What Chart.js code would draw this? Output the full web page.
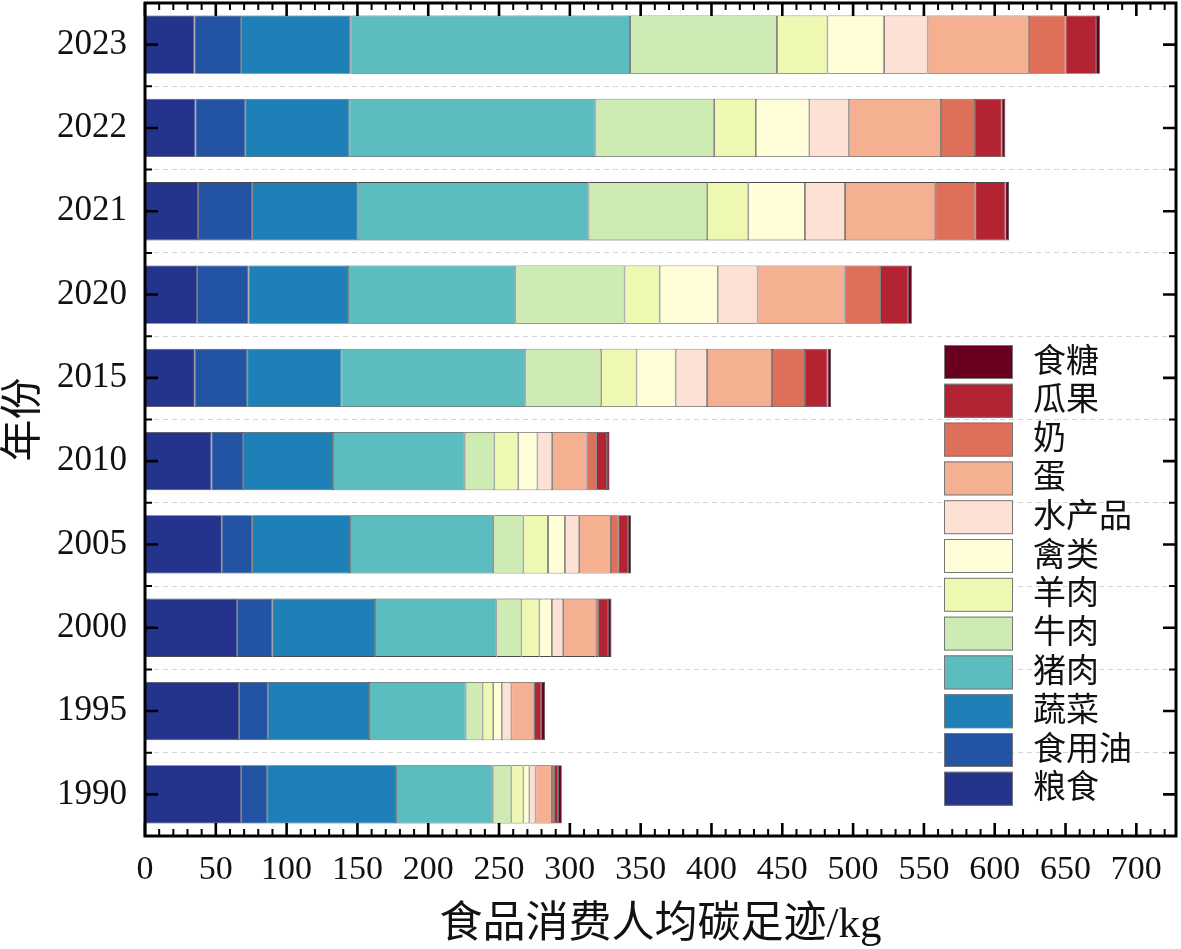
<!DOCTYPE html>
<html>
<head>
<meta charset="utf-8">
<script src="https://cdn.jsdelivr.net/npm/chart.js@4.4.1/dist/chart.umd.min.js"></script>
<style>
  body { margin: 0; background: #fff; }
</style>
</head>
<body>
<canvas id="myChart" width="1181" height="949"></canvas>
<script>
// years, bottom to top
const years = ['1990', '1995', '2000', '2005', '2010', '2015', '2020', '2021', '2022', '2023'];

// per-capita carbon footprint by food, kg (same order as years)
const grain   = [67.9, 66.5, 65.1, 54.2, 46.9, 35.1, 36.8, 37.5, 35.6, 34.9];
const oil     = [18.4, 20.2, 24.8, 21.5, 22.4, 37.1, 36.3, 38.2, 35.2, 33.0];
const veg     = [91.0, 71.5, 72.6, 69.1, 63.4, 66.5, 70.3, 74.5, 73.5, 77.2];
const pork    = [68.2, 68.2, 85.6, 101.1, 93.0, 129.9, 118.1, 163.0, 173.8, 197.4];
const beef    = [13.2, 12.0, 17.7, 21.3, 21.0, 53.6, 77.1, 83.8, 83.8, 103.7];
const mutton  = [8.5, 7.5, 12.7, 17.4, 16.9, 24.9, 24.8, 29.0, 29.4, 35.7];
const poultry = [4.2, 6.0, 8.8, 11.9, 13.5, 27.6, 41.0, 40.0, 37.8, 40.0];
const aquatic = [4.3, 6.8, 8.0, 10.1, 10.4, 22.2, 28.1, 28.3, 27.8, 30.7];
const egg     = [11.6, 15.6, 22.8, 22.4, 24.3, 45.8, 61.4, 63.7, 65.1, 71.7];
const milk    = [1.6, 0.5, 1.9, 5.2, 6.8, 23.3, 25.2, 28.3, 24.1, 25.7];
const fruit   = [2.8, 4.9, 6.9, 6.8, 7.6, 15.9, 19.6, 21.2, 18.8, 21.5];
const sugar   = [2.6, 2.8, 2.5, 2.2, 1.8, 2.5, 2.8, 2.6, 2.6, 2.8];

const foodNames = ['粮食', '食用油', '蔬菜', '猪肉', '牛肉', '羊肉', '禽类', '水产品', '蛋', '奶', '瓜果', '食糖'];
const foodData = [grain, oil, veg, pork, beef, mutton, poultry, aquatic, egg, milk, fruit, sugar];
const foodColors = ['#24338c', '#2353a3', '#1f80b8', '#5bbdc0', '#cfebb4', '#eef8b3',
                    '#fffed8', '#fde1d5', '#f5b092', '#de705a', '#b42332', '#6a0020'];

const xTicks = [0, 50, 100, 150, 200, 250, 300, 350, 400, 450, 500, 550, 600, 650, 700];
const xMax = 728;

const serif = '"Liberation Serif", "Noto Sans CJK SC", serif';

let datasets = [];
for (let i = 0; i < foodNames.length; i++) {
  datasets.push({
    label: foodNames[i],
    data: foodData[i],
    backgroundColor: foodColors[i],
    borderColor: '#4a4a4a',
    borderWidth: 0.8,
    borderSkipped: false,
    barPercentage: 0.7,
    categoryPercentage: 1.0
  });
}

// frame, inward ticks and legend
const framePlugin = {
  id: 'frame',
  afterDraw(chart) {
    const ctx = chart.ctx;
    const a = chart.chartArea;
    const xs = chart.scales.x;
    const ys = chart.scales.y;
    ctx.save();
    ctx.strokeStyle = '#000';
    ctx.lineCap = 'butt';

    // x ticks top and bottom
    for (let v = 0; v <= xMax; v += 10) {
      const px = xs.getPixelForValue(v);
      const major = v % 50 === 0;
      const len = major ? 13 : 7;
      ctx.lineWidth = major ? 2.6 : 2;
      ctx.beginPath();
      ctx.moveTo(px, a.bottom); ctx.lineTo(px, a.bottom - len);
      ctx.moveTo(px, a.top); ctx.lineTo(px, a.top + len);
      ctx.stroke();
    }

    // y ticks left and right
    const n = years.length;
    for (let i = 0; i < n; i++) {
      const py = ys.getPixelForValue(i);
      ctx.lineWidth = 2.6;
      ctx.beginPath();
      ctx.moveTo(a.left, py); ctx.lineTo(a.left + 13, py);
      ctx.moveTo(a.right, py); ctx.lineTo(a.right - 13, py);
      ctx.stroke();
    }
    for (let i = 0; i < n - 1; i++) {
      const py = (ys.getPixelForValue(i) + ys.getPixelForValue(i + 1)) / 2;
      ctx.lineWidth = 2;
      ctx.beginPath();
      ctx.moveTo(a.left, py); ctx.lineTo(a.left + 7, py);
      ctx.moveTo(a.right, py); ctx.lineTo(a.right - 7, py);
      ctx.stroke();
    }

    ctx.lineWidth = 3;
    ctx.strokeRect(a.left, a.top, a.right - a.left, a.bottom - a.top);

    // legend, last series on top
    const ds = chart.data.datasets;
    const boxX = 944, boxW = 69, boxH = 34, top0 = 345, step = 38.8;
    ctx.font = '33px ' + serif;
    ctx.textBaseline = 'middle';
    ctx.textAlign = 'left';
    for (let k = 0; k < ds.length; k++) {
      const d = ds[ds.length - 1 - k];
      const y = top0 + k * step;
      ctx.fillStyle = d.backgroundColor;
      ctx.fillRect(boxX, y, boxW, boxH);
      ctx.lineWidth = 1;
      ctx.strokeStyle = '#777';
      ctx.strokeRect(boxX + 0.5, y + 0.5, boxW - 1, boxH - 1);
      ctx.fillStyle = '#111';
      ctx.fillText(d.label, 1033, y + boxH / 2 + 1);
    }
    ctx.restore();
  }
};

const config = {
  type: 'bar',
  data: { labels: years, datasets: datasets },
  options: {
    indexAxis: 'y',
    responsive: false,
    animation: false,
    layout: { padding: { top: 3, right: 5, left: 0, bottom: 0 } },
    plugins: {
      legend: { display: false },
      tooltip: { enabled: false }
    },
    scales: {
      x: {
        stacked: true,
        min: 0,
        max: xMax,
        afterBuildTicks(scale) {
          scale.ticks = xTicks.map(v => ({ value: v }));
        },
        afterFit(scale) {
          scale.height = 113;
          scale.paddingLeft = 0;
          scale.paddingRight = 0;
        },
        grid: { display: false, drawTicks: false },
        border: { display: false },
        ticks: {
          color: '#111',
          padding: 14,
          maxRotation: 0,
          autoSkip: false,
          font: { family: serif, size: 34 }
        },
        title: {
          display: true,
          text: '食品消费人均碳足迹/kg',
          color: '#111',
          padding: 0,
          font: { family: serif, size: 43, lineHeight: 1.1 }
        }
      },
      y: {
        stacked: true,
        reverse: true,
        afterFit(scale) {
          scale.width = 145;
          scale.paddingTop = 0;
          scale.paddingBottom = 0;
        },
        grid: {
          offset: true,
          drawTicks: false,
          color: '#d4d4d4',
          lineWidth: 1
        },
        border: { display: false, dash: [5, 4] },
        ticks: {
          color: '#111',
          padding: 18,
          font: { family: serif, size: 35 }
        },
        title: {
          display: true,
          text: '年份',
          color: '#111',
          padding: 0,
          font: { family: serif, size: 42, lineHeight: 1.2 }
        }
      }
    }
  },
  plugins: [framePlugin]
};

const myChart = new Chart(document.getElementById('myChart'), config);
</script>
</body>
</html>
